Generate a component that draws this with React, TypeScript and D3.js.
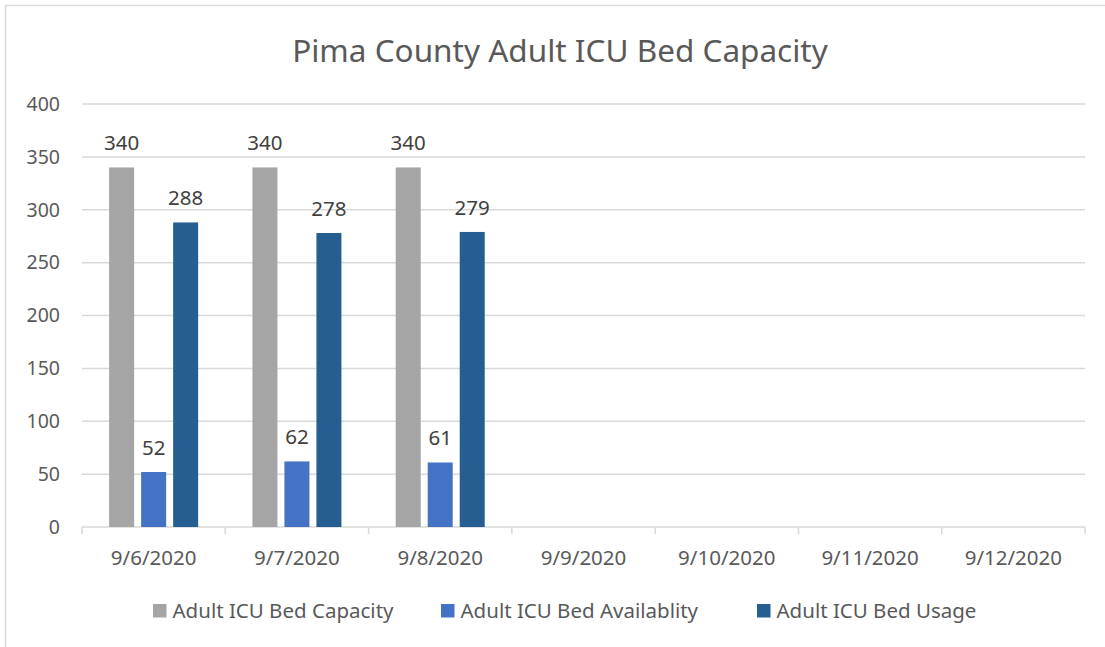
import * as d3 from 'd3';

const categories = ['9/6/2020', '9/7/2020', '9/8/2020', '9/9/2020', '9/10/2020', '9/11/2020', '9/12/2020'];
const capacity = [340, 340, 340, null, null, null, null];
const availability = [52, 62, 61, null, null, null, null];
const usage = [288, 278, 279, null, null, null, null];
const yTicks = [0, 50, 100, 150, 200, 250, 300, 350, 400];

const series = [
  { name: 'Adult ICU Bed Capacity', values: capacity, color: '#A5A5A5' },
  { name: 'Adult ICU Bed Availablity', values: availability, color: '#4472C4' },
  { name: 'Adult ICU Bed Usage', values: usage, color: '#255E91' },
];

const W = 1105;
const H = 647;
const margin = { top: 104, right: 20, bottom: 120, left: 82 };
const FONT = '"Noto Sans", sans-serif';
const TEXT = '#595959';
const GRID = '#D9D9D9';

export default function App() {
  const plotRight = 1085;
  const plotBottom = 527;

  const x = d3.scaleBand<string>().domain(categories).range([margin.left, plotRight]);
  const y = d3.scaleLinear().domain([0, 400]).range([plotBottom, margin.top]);

  const barW = 25;
  const step = 32;
  const groupW = barW * 3 + (step - barW) * 2;

  // legend item left positions
  const legendX = [153, 441, 757];

  return (
    <svg width={W} height={H} style={{ position: 'absolute', left: 0, top: 0 }} fontFamily={FONT}>
      <rect x={0} y={0} width={W} height={H} fill="#fff" />
      <rect x={5.5} y={5.5} width={W + 10} height={H + 10} fill="none" stroke={GRID} strokeWidth={1.5} />

      <text x={560} y={62} textAnchor="middle" fontSize={31.5} fill={TEXT}>
        Pima County Adult ICU Bed Capacity
      </text>

      {yTicks.map(t => (
        <g key={t}>
          {t > 0 && (
            <line x1={margin.left} x2={plotRight} y1={y(t)} y2={y(t)} stroke={GRID} strokeWidth={1.5} />
          )}
          <text x={60} y={y(t)} dy="0.35em" textAnchor="end" fontSize={19.5} fill={TEXT}>
            {t}
          </text>
        </g>
      ))}

      <line x1={margin.left} x2={plotRight} y1={plotBottom} y2={plotBottom} stroke={GRID} strokeWidth={1.5} />
      {[...categories.map(c => x(c) as number), plotRight].map((px, i) => (
        <line key={i} x1={px} x2={px} y1={plotBottom} y2={plotBottom + 7} stroke={GRID} strokeWidth={1.5} />
      ))}

      {categories.map(c => (
        <text key={c} x={(x(c) as number) + x.bandwidth() / 2} y={558} dy="0.35em" textAnchor="middle" fontSize={20.5} fill={TEXT}>
          {c}
        </text>
      ))}

      {series.map((s, si) =>
        categories.map((c, ci) => {
          const v = s.values[ci];
          if (v == null) return null;
          const bx = (x(c) as number) + x.bandwidth() / 2 - groupW / 2 + si * step;
          return (
            <g key={`${si}-${ci}`}>
              <rect x={bx} y={y(v)} width={barW} height={plotBottom - y(v)} fill={s.color} />
              <text x={bx + barW / 2} y={y(v) - 17} textAnchor="middle" fontSize={20.5} fill="#404040">
                {v}
              </text>
            </g>
          );
        })
      )}

      {series.map((s, i) => (
        <g key={s.name} transform={`translate(${legendX[i]},604)`}>
          <rect x={0} y={0} width={13.5} height={13.5} fill={s.color} />
          <text x={19.5} y={7} dy="0.35em" fontSize={20.5} fill={TEXT}>
            {s.name}
          </text>
        </g>
      ))}
    </svg>
  );
}
